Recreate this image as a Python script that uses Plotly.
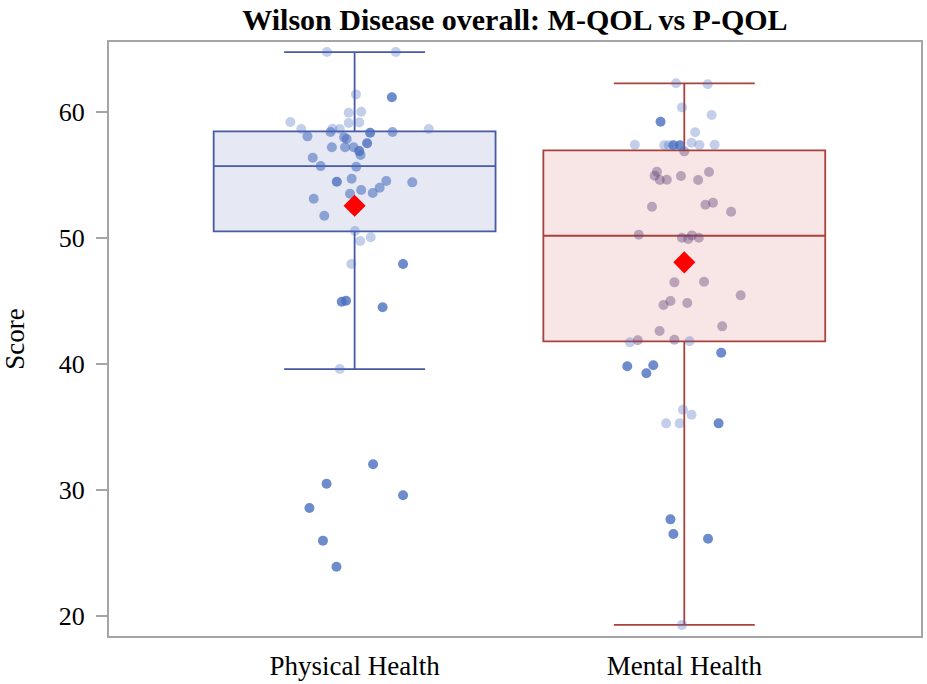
import plotly.graph_objects as go

# ---------------- data ----------------
categories = ["Physical Health", "Mental Health"]

# box statistics
q1_vals = [50.53, 41.80]
median_vals = [55.71, 50.18]
q3_vals = [58.47, 56.96]
lower_whisker = [39.60, 19.29]
upper_whisker = [64.76, 62.28]
mean_vals = [52.56, 48.07]

# individual (jittered) observations
physical_scores = [64.76, 64.76, 61.40, 61.17, 59.94, 60.02, 59.13, 59.18, 59.21, 58.65,
                   58.65, 58.07, 58.41, 58.67, 58.65, 58.36, 58.41, 57.99, 57.86, 57.52,
                   57.20, 57.20, 57.20, 56.90, 56.59, 56.37, 55.71, 55.66, 54.47, 54.71,
                   54.52, 54.42, 53.81, 53.99, 53.57, 53.52, 53.12, 51.77, 50.56, 49.76,
                   50.06, 47.94, 47.94, 44.94, 45.02, 44.50, 39.60, 32.04, 30.50, 29.58,
                   28.57, 25.98, 23.91]
physical_jitter = [-0.084, 0.125, 0.004, 0.113, -0.018, 0.020, -0.018, 0.014, -0.195, -0.162,
                   0.225, -0.143, -0.073, -0.067, -0.045, 0.047, 0.115, -0.032, -0.024, 0.038,
                   -0.069, -0.029, -0.003, 0.014, 0.018, -0.127, -0.103, 0.005, -0.054, -0.009,
                   0.096, 0.175, 0.020, 0.076, 0.055, -0.014, -0.124, -0.092, 0.001, 0.017,
                   0.049, -0.010, 0.147, -0.039, -0.026, 0.085, -0.045, 0.056, -0.085, 0.147,
                   -0.137, -0.096, -0.055]
physical_group = ["f", "f", "f", "s", "f", "f", "f", "f", "f", "f",
                  "f", "m", "m", "f", "f", "s", "m", "m", "m", "s",
                  "m", "m", "m", "s", "m", "m", "m", "m", "s", "m",
                  "m", "m", "m", "m", "m", "m", "m", "m", "f", "f",
                  "f", "f", "s", "s", "s", "s", "f", "s", "s", "s",
                  "s", "s", "s"]

mental_scores = [62.28, 62.20, 60.37, 59.76, 59.23, 58.39, 57.40, 57.36, 57.36, 57.36,
                 57.36, 57.56, 57.38, 57.40, 56.88, 55.26, 54.94, 54.60, 54.63, 54.92,
                 54.60, 55.24, 52.48, 52.64, 52.80, 52.09, 50.26, 50.02, 49.92, 50.21,
                 50.02, 46.48, 46.53, 45.45, 44.68, 45.00, 44.84, 42.99, 42.62, 41.72,
                 41.88, 41.93, 41.80, 40.90, 39.82, 39.90, 39.26, 36.37, 35.98, 35.29,
                 35.29, 35.29, 27.67, 26.51, 26.13, 19.29]
mental_jitter = [-0.025, 0.071, -0.007, 0.083, -0.072, 0.033, -0.150, -0.061, -0.047, -0.033,
                 -0.013, 0.022, 0.046, 0.092, 0.000, -0.083, -0.090, -0.074, -0.053, -0.010,
                 0.042, 0.075, -0.098, 0.064, 0.087, 0.142, -0.138, -0.007, 0.012, 0.023,
                 0.044, -0.030, 0.060, 0.171, -0.063, -0.042, 0.009, 0.115, -0.075, -0.165,
                 -0.141, -0.030, 0.016, 0.112, -0.173, -0.094, -0.115, -0.004, 0.022, -0.055,
                 -0.014, 0.104, -0.042, -0.033, 0.072, -0.007]
mental_group = ["f", "f", "f", "f", "s", "f", "f", "f", "f", "s",
                "s", "f", "f", "f", "m", "m", "m", "m", "m", "m",
                "m", "m", "m", "m", "m", "m", "m", "m", "m", "m",
                "m", "m", "m", "m", "m", "m", "m", "m", "m", "f",
                "m", "m", "f", "s", "s", "s", "s", "f", "f", "f",
                "f", "s", "s", "s", "s", "f"]

# ---------------- styles ----------------
FONT = "Liberation Serif, Times New Roman, serif"
box_line = ["rgb(70,90,165)", "rgb(170,66,60)"]
box_fill = ["rgb(230,233,244)", "rgb(248,229,229)"]
point_colors = [
    {"f": "rgba(74,110,190,0.33)", "m": "rgba(74,110,190,0.58)", "s": "rgba(74,110,190,0.80)"},
    {"f": "rgba(74,110,190,0.33)", "m": "rgba(100,70,125,0.42)", "s": "rgba(74,110,190,0.80)"},
]

fig = go.Figure()

positions = [0, 1]
for i, cat in enumerate(categories):
    fig.add_trace(go.Box(
        x=[positions[i]], q1=[q1_vals[i]], median=[median_vals[i]], q3=[q3_vals[i]],
        lowerfence=[lower_whisker[i]], upperfence=[upper_whisker[i]],
        width=0.855, whiskerwidth=0.5, boxpoints=False,
        fillcolor=box_fill[i], line=dict(color=box_line[i], width=1.8),
        showlegend=False, hoverinfo="skip", name=cat,
    ))

series = [(physical_scores, physical_jitter, physical_group),
          (mental_scores, mental_jitter, mental_group)]
for i, (vals, jit, grp) in enumerate(series):
    for g in ["f", "m", "s"]:
        xs = [positions[i] + j for j, gg in zip(jit, grp) if gg == g]
        ys = [v for v, gg in zip(vals, grp) if gg == g]
        fig.add_trace(go.Scatter(
            x=xs, y=ys, mode="markers",
            marker=dict(size=10, color=point_colors[i][g], line=dict(width=0)),
            showlegend=False, hoverinfo="y",
        ))

fig.add_trace(go.Scatter(
    x=positions, y=mean_vals, mode="markers",
    marker=dict(symbol="diamond", size=17, color="rgb(255,0,0)", line=dict(width=0)),
    showlegend=False,
))

fig.update_layout(
    width=927, height=684,
    margin=dict(l=109, r=6, t=42, b=48, autoexpand=False),
    paper_bgcolor="white", plot_bgcolor="white",
    font=dict(family=FONT, size=26, color="black"),
    title=dict(text="<b>Wilson Disease overall: M-QOL vs P-QOL</b>",
               x=0.5555, xanchor="center", yref="container", y=0.987, yanchor="top",
               font=dict(family=FONT, size=30, color="black")),
)
fig.update_xaxes(
    range=[-0.745, 1.718], tickvals=positions, ticktext=categories,
    showgrid=False, zeroline=False, ticks="", ticklabelstandoff=5, automargin=False,
    showline=True, mirror=True, linecolor="rgb(165,165,165)", linewidth=2,
    tickfont=dict(family=FONT, size=27, color="black"),
)
fig.update_yaxes(
    range=[18.41, 65.56], tickvals=[20, 30, 40, 50, 60],
    showgrid=False, zeroline=False, ticks="outside", ticklen=11, automargin=False,
    tickcolor="rgb(165,165,165)", tickwidth=2, ticklabelstandoff=6,
    showline=True, mirror=True, linecolor="rgb(165,165,165)", linewidth=2,
    title=dict(text="Score", font=dict(family=FONT, size=27, color="black"), standoff=26),
    tickfont=dict(family=FONT, size=26, color="black"),
)

fig.write_html(
    "out.html",
    config={"displayModeBar": False},
    post_script="document.body.style.margin='0';document.body.style.padding='0';",
)
